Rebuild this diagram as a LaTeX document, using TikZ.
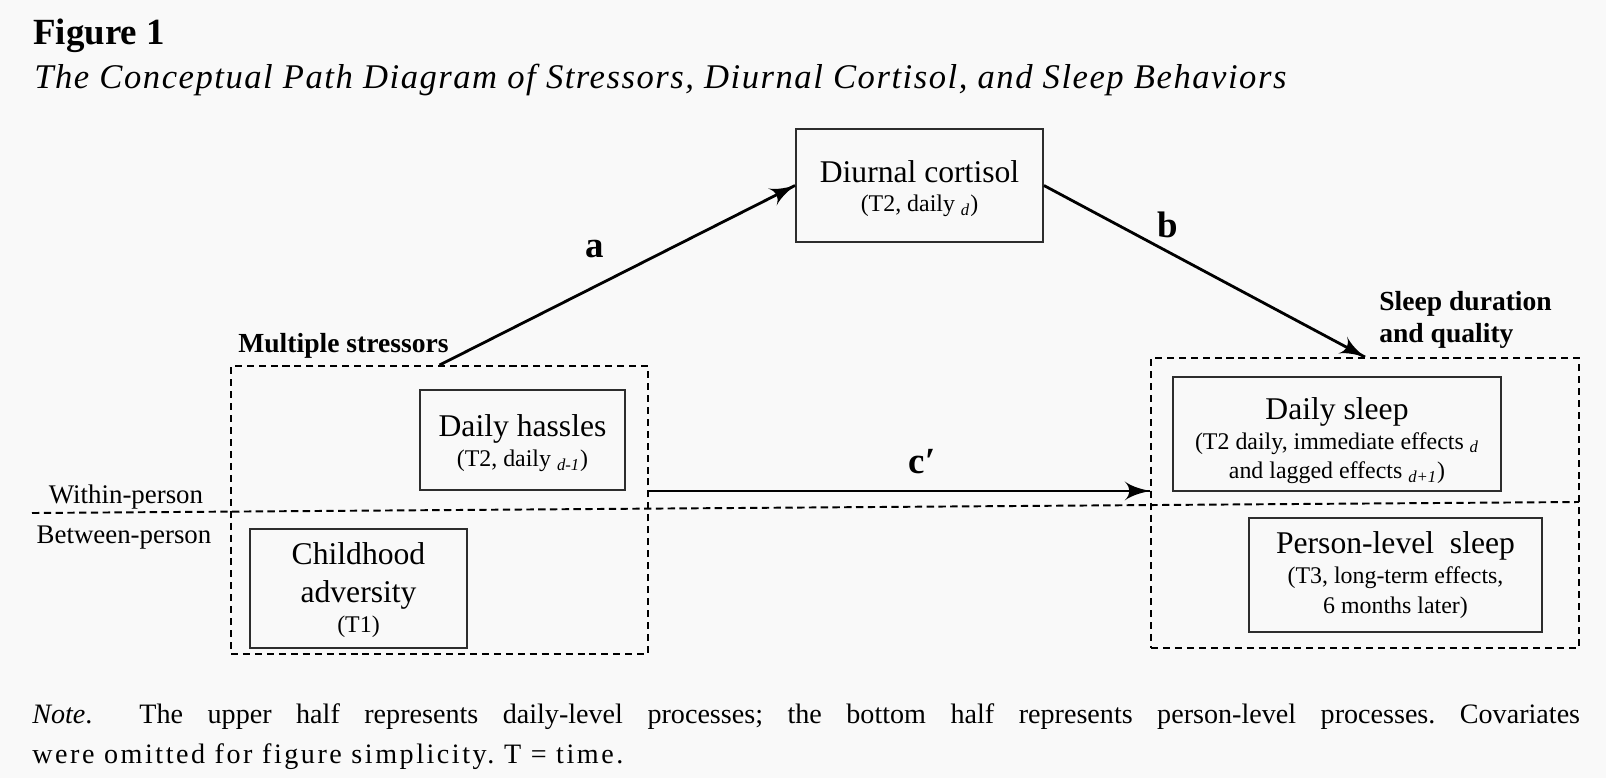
\documentclass[tikz,border=0pt]{standalone}
\usepackage{fontspec}
\setmainfont{Liberation Serif}
\usetikzlibrary{arrows}
\usetikzlibrary{decorations.markings}
\usetikzlibrary{positioning}
\definecolor{paper}{RGB}{249,249,249}
\definecolor{boxgray}{RGB}{45,45,45}
\tikzset{effect/.style = {line width=1.6pt, decoration={markings,
                                  mark=at position 1 with {\arrow[scale=1.9]{latex'}}},
                      postaction={decorate}}}
\tikzset{var/.style = {draw=boxgray, line width=1.1pt, inner sep=0, align=center,
                       font=\fontsize{18}{17}\selectfont}}
\tikzset{group/.style = {draw, dash pattern=on 4pt off 2.8pt, line width=1.1pt, inner sep=0}}
\tikzset{group label/.style = {inner sep=0, font=\fontsize{15.7}{18.1}\selectfont\bfseries}}
\tikzset{path label/.style = {inner sep=0, anchor=base, font=\fontsize{21}{24}\selectfont\bfseries}}
\tikzset{level/.style = {inner sep=0, anchor=base, font=\fontsize{15.3}{18}\selectfont}}
\newcommand{\detail}[1]{{\fontsize{13.6}{17}\selectfont #1}}
\newcommand{\sub}[1]{\textsubscript{\textit{#1}}}
\newcommand{\lift}[1]{\rule{0pt}{#1}}

\begin{document}
\begin{tikzpicture}[x=0.02cm, y=-0.02cm]
    \fill [paper] (0, 0) rectangle (1606, 778);
    \useasboundingbox (0, 0) rectangle (1606, 778);

    % caption
    \node [anchor=base west, inner sep=0, font=\fontsize{21}{24}\selectfont\bfseries]
      (fig) at (33, 44) {Figure 1};
    \node [anchor=base west, inner sep=0, font=\fontsize{19.7}{24}\selectfont\itshape\addfontfeature{LetterSpace=4.4}]
      (title) at (34, 88) {The Conceptual Path Diagram of Stressors, Diurnal Cortisol, and Sleep Behaviors};

    % groups
    \node [group, minimum width=8.34cm, minimum height=5.76cm] (stressors) at (439.5, 510) {};
    \node [group, minimum width=8.56cm, minimum height=5.8cm] (sleep) at (1365, 503) {};
    \node [group label, anchor=base west] (stressors label) at (238, 352) {Multiple stressors};
    \node [group label, anchor=north west, align=left] (sleep label) at (1379, 291)
      {Sleep duration\\and quality};

    % within / between
    \draw [dash pattern=on 4.2pt off 2.5pt, line width=1.1pt] (32, 513) -- (1579, 502);
    \node [level] (within) at (126, 503) {Within-person};
    \node [level] (between) at (124, 543) {Between-person};

    % variables
    \node [var, minimum width=4.94cm, minimum height=2.26cm] (cortisol) at (919.5, 185.5)
      {\lift{16pt}Diurnal cortisol\\\detail{(T2, daily \sub{d})}};
    \node [var, minimum width=4.1cm, minimum height=2cm] (hassles) at (522.5, 440)
      {\lift{16pt}Daily hassles\\\detail{(T2, daily \sub{d-1})}};
    \node [var, minimum width=4.34cm, minimum height=2.38cm] (adversity) at (358.5, 588.5)
      {\lift{14pt}Childhood\\[4.5pt]adversity\\\detail{(T1)}};
    \node [var, minimum width=6.56cm, minimum height=2.28cm] (daily sleep) at (1337, 434)
      {\lift{20pt}Daily sleep\\\detail{(T2 daily, immediate effects \sub{d}}\\\detail{and lagged effects \sub{d+1})}};
    \node [var, minimum width=5.86cm, minimum height=2.28cm] (person sleep) at (1395.5, 575)
      {Person-level\ \ sleep\\\detail{(T3, long-term effects,}\\\detail{6 months later)}};

    % paths
    \draw [effect] (stressors.north) -- (cortisol.west);
    \draw [effect] (cortisol.east) -- (sleep.north);
    \draw [effect] (stressors.east |- hassles.south) -- (sleep.west |- hassles.south);
    \node [path label] (a) at (595, 257) {a};
    \node [path label] (b) at (1168, 237) {b};
    \node [path label] (c) at (922, 473) {c′};

    % note
    \node [anchor=north west, inner sep=0, text width=30.96cm, align=justify,
           font=\fontsize{16}{23.2}\selectfont\frenchspacing] (note) at (32, 703)
      {\textit{Note}.\hspace*{0.8em} The upper half represents daily-level processes; the bottom half represents person-level processes. Covariates\linebreak
       {\addfontfeature{LetterSpace=9}were omitted for figure simplicity. T = time.}};
  \end{tikzpicture}
\end{document}
